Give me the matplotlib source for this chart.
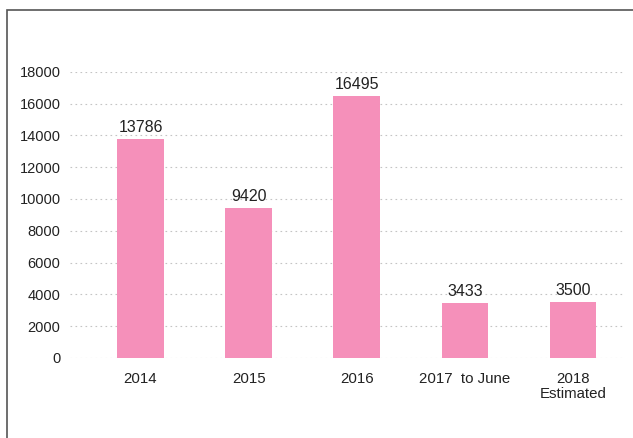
import matplotlib.pyplot as plt
from matplotlib.patches import Rectangle

categories = ["2014", "2015", "2016", "2017  to June", "2018\nEstimated"]
values = [13786, 9420, 16495, 3433, 3500]
yticks = [0, 2000, 4000, 6000, 8000, 10000, 12000, 14000, 16000, 18000]

plt.rcParams['font.family'] = ['Liberation Sans', 'DejaVu Sans']

fig = plt.figure(figsize=(6.33, 4.38), dpi=100)
ax = fig.add_axes([0.111, 0.183, 0.876, 0.653])

# outer frame of the chart box
fig.patches.append(Rectangle((7 / 633, -0.02), 1.0, 1 - 10 / 438 + 0.02,
                             transform=fig.transFigure, fill=False,
                             edgecolor='#555555', linewidth=1.2))

x = range(len(categories))
bars = ax.bar(x, values, width=0.43, color='#F590BA', zorder=2)
for i, v in enumerate(values):
    ax.text(i, v + 250, str(v), ha='center', va='bottom', fontsize=11.5, color='#222222')

ax.set_xlim(-0.65, 4.48)
ax.set_ylim(0, 18000)
ax.set_yticks(yticks)
ax.set_xticks(list(x))
ax.set_xticklabels(categories, fontsize=10.8, color='#222222', linespacing=1.1)
ax.tick_params(axis='y', labelsize=10.5, colors='#222222', length=0, pad=7)
ax.tick_params(axis='x', length=0, pad=10)
ax.grid(axis='y', linestyle=(0, (1.5, 3)), color='#c4c4c4', linewidth=0.8, zorder=0)
for s in ax.spines.values():
    s.set_visible(False)

fig.savefig("out.png", dpi=100)
